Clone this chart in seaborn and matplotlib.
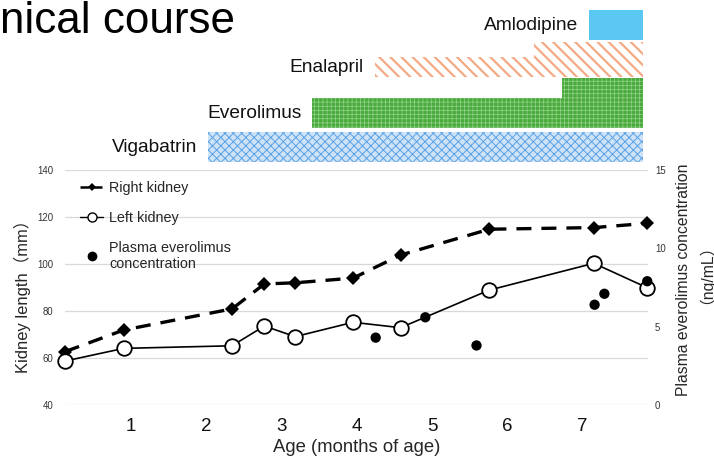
import numpy as np
import pandas as pd
import matplotlib
matplotlib.use("Agg")
import matplotlib.pyplot as plt
from matplotlib.lines import Line2D
import seaborn as sns

# ---------------- data ----------------
age_months = [0.12, 0.90, 2.34, 2.77, 3.18, 3.95, 4.58, 5.76, 7.15, 7.86]
right_kidney = [62.7, 71.9, 80.9, 91.5, 92.0, 94.0, 103.8, 114.8, 115.5, 117.3]
left_kidney = [58.7, 64.1, 65.2, 73.6, 69.1, 75.2, 72.9, 88.9, 100.3, 89.9]

conc_age = [4.25, 4.91, 5.59, 7.16, 7.29, 7.86]
conc_value = [4.3, 5.6, 3.8, 6.4, 7.1, 7.9]

x_ticks = [1, 2, 3, 4, 5, 6, 7]
left_ticks = [40, 60, 80, 100, 120, 140]
right_ticks = [0, 5, 10, 15]

drugs = ["Vigabatrin", "Everolimus", "Enalapril", "Amlodipine"]
vig_start = [2.02]
vig_level = [1.0]
eve_start = [3.41, 6.73]
eve_level = [1.0, 1.65]
ena_start = [4.24, 6.36]
ena_level = [0.65, 1.15]
aml_start = [7.09]
aml_level = [1.0]
course_end = 7.81

# ---------------- style ----------------
sns.set_style("white")
plt.rcParams["font.family"] = ["Liberation Sans", "Noto Sans CJK JP", "DejaVu Sans"]

W, H = 714, 461
fig = plt.figure(figsize=(W / 100, H / 100), dpi=100)

axL, axR, axB, axT = 65, 648, 405, 170
ax = fig.add_axes([axL / W, 1 - axB / H, (axR - axL) / W, (axB - axT) / H])
ax2 = ax.twinx()

df_k = pd.DataFrame({"age": age_months, "right": right_kidney, "left": left_kidney})
df_c = pd.DataFrame({"age": conc_age, "conc": conc_value})

sns.lineplot(data=df_k, x="age", y="right", ax=ax, color="black", lw=2.4,
             linestyle=(0, (4.5, 3.0)), marker="D", markersize=7.5,
             markeredgewidth=0, clip_on=False, zorder=3)
sns.lineplot(data=df_k, x="age", y="left", ax=ax, color="black", lw=1.2,
             marker="o", markersize=10.5, markerfacecolor="white",
             markeredgecolor="black", markeredgewidth=1.3, clip_on=False, zorder=4)
sns.scatterplot(data=df_c, x="age", y="conc", ax=ax2, color="black", s=55,
                edgecolor="none", clip_on=False, zorder=5)

ax.set_xlim(0.12, 7.87)
ax.set_ylim(40, 140)
ax2.set_ylim(0, 15)
ax.set_xticks(x_ticks)
ax.set_xticklabels([str(t) for t in x_ticks], fontsize=13.5, color="#111111")
ax.set_yticks(left_ticks)
ax.set_yticklabels([str(t) for t in left_ticks], fontsize=6.9, color="#333333")
ax2.set_yticks(right_ticks)
ax2.set_yticklabels([str(t) for t in right_ticks], fontsize=6.9, color="#333333")
ax.tick_params(axis="x", length=0, pad=9)
ax.tick_params(axis="y", length=0, pad=8.5)
ax2.tick_params(axis="y", length=0, pad=5)

ax.grid(axis="y", color="#d9d9d9", lw=0.9)
ax.grid(axis="x", visible=False)
ax2.grid(False)
for a in (ax, ax2):
    for s in a.spines.values():
        s.set_visible(False)

ax.set_xlabel("Age (months of age)", fontsize=13.3)
ax.xaxis.set_label_coords(0.5, (axB - 447) / (axB - axT))
ax.xaxis.label.set_va("center")
ax.set_ylabel("Kidney length（mm）", fontsize=11.9)
ax.yaxis.set_label_coords((22 - axL) / (axR - axL), (axB - 292) / (axB - axT))
ax.yaxis.label.set_va("center")
ax2.set_ylabel("")
fig.text(683 / W, 1 - 280 / H, "Plasma everolimus concentration",
         fontsize=11.3, rotation=90, ha="center", va="center")
fig.text(698 / W, 1 - 266 / H, "（ng/mL）",
         fontsize=11.3, rotation=90, ha="center", va="center")

handles = [
    Line2D([], [], color="black", lw=1.8, linestyle=(0, (3.5, 1.8)), marker="D",
           markersize=4.5, markeredgewidth=0),
    Line2D([], [], color="black", lw=1.0, marker="o", markersize=6.5,
           markerfacecolor="white", markeredgecolor="black", markeredgewidth=1.0),
    Line2D([], [], color="black", lw=0, marker="o", markersize=6),
]
labels = ["Right kidney", "Left kidney", "Plasma everolimus\nconcentration"]
ax2.legend(handles, labels, loc="upper left",
           bbox_to_anchor=((80 - axL) / (axR - axL), (axB - 181) / (axB - axT)),
           frameon=False, fontsize=10.4, handlelength=1.6, handletextpad=0.4,
           labelspacing=1.1, borderpad=0, borderaxespad=0)

# ---------------- treatment course panel ----------------
axT2 = fig.add_axes([axL / W, 1 - 165 / H, (axR - axL) / W, 165 / H], sharex=ax)
axT2.set_ylim(165, 0)
axT2.axis("off")

unit_h = 30
row_base = {"Vigabatrin": 162, "Everolimus": 128, "Enalapril": 77, "Amlodipine": 40}
segments = {
    "Vigabatrin": (vig_start, vig_level),
    "Everolimus": (eve_start, eve_level),
    "Enalapril": (ena_start, ena_level),
    "Amlodipine": (aml_start, aml_level),
}
styles = {
    "Vigabatrin": dict(facecolor="#cfe3f8", edgecolor="#5aa2e6", hatch="xxxx", hlw=0.7),
    "Everolimus": dict(facecolor="#4aaa3d", edgecolor="#94d38a", hatch="++++", hlw=0.5),
    "Enalapril": dict(facecolor="white", edgecolor="#f4aa84", hatch="\\\\\\", hlw=1.6),
    "Amlodipine": dict(facecolor="#5bc8f4", edgecolor="#5bc8f4", hatch=None, hlw=0.5),
}
for drug in drugs:
    starts, levels = segments[drug]
    ends = list(starts[1:]) + [course_end]
    st = styles[drug]
    base = row_base[drug]
    for s0, e0, lv in zip(starts, ends, levels):
        with plt.rc_context({"hatch.linewidth": st["hlw"]}):
            axT2.bar(s0, -lv * unit_h, width=e0 - s0, bottom=base, align="edge",
                     facecolor=st["facecolor"], edgecolor=st["edgecolor"],
                     hatch=st["hatch"], linewidth=0)
    axT2.annotate(drug, xy=(starts[0], base - levels[0] * unit_h / 2),
                  xytext=(-8, 0), textcoords="offset points", ha="right",
                  va="center", fontsize=13.8, color="#111111")

fig.text(0, 1 - 33 / H, "nical course", fontsize=31.7, ha="left",
         va="baseline", color="black")

fig.savefig("out.png", dpi=100)
